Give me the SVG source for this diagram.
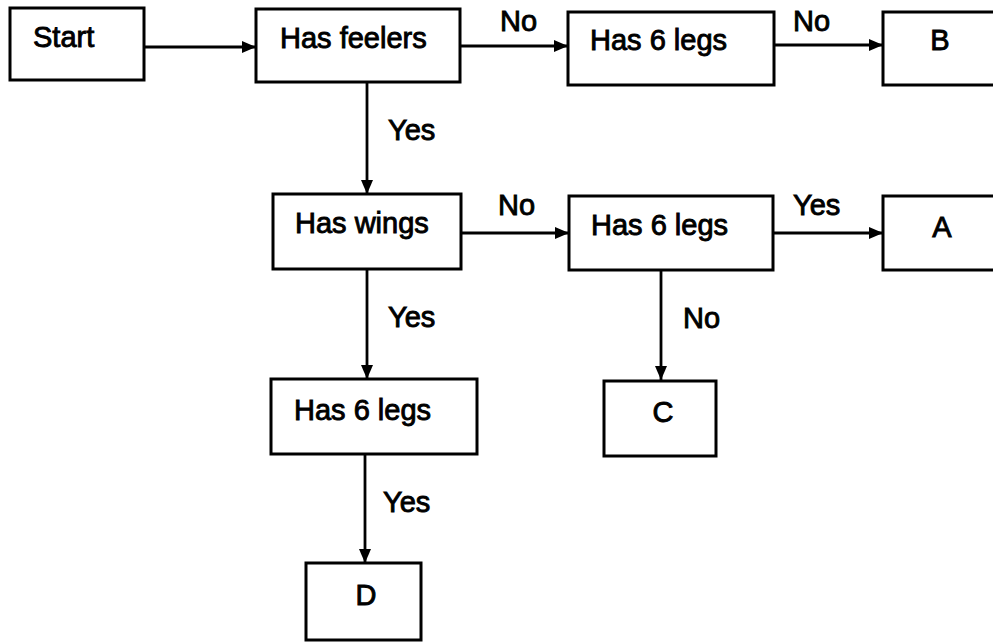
<svg xmlns="http://www.w3.org/2000/svg" width="993" height="642" viewBox="0 0 993 642">
<defs>
<marker id="ah" viewBox="0 0 14 12" refX="14" refY="6" markerWidth="14" markerHeight="12" markerUnits="userSpaceOnUse" orient="auto">
<path d="M0,0 L14,6 L0,12 Z" fill="#000"/>
</marker>
</defs>
<style>
.box{fill:#fff;stroke:#000;stroke-width:3}
.t{font-family:"Liberation Sans",Arial,sans-serif;font-size:29px;fill:#000;stroke:#000;stroke-width:0.9}
.lbl{font-family:"Liberation Sans",Arial,sans-serif;font-size:29px;fill:#000;stroke:#000;stroke-width:0.9}
.c{fill:none;stroke:#000;stroke-width:2.8;marker-end:url(#ah)}
</style>
<rect width="993" height="642" fill="#fff"/>
<g id="connectors">
<line class="c" x1="144" y1="47" x2="256" y2="47"/>
<line class="c" x1="460" y1="46" x2="568" y2="46"/>
<line class="c" x1="774" y1="45" x2="883" y2="45"/>
<line class="c" x1="367" y1="82" x2="367" y2="194"/>
<line class="c" x1="461" y1="233" x2="569" y2="233"/>
<line class="c" x1="773" y1="233" x2="883" y2="233"/>
<line class="c" x1="367" y1="269" x2="367" y2="379"/>
<line class="c" x1="661" y1="270" x2="661" y2="380"/>
<line class="c" x1="365" y1="454" x2="365" y2="563"/>
<text class="lbl" x="500" y="31">No</text>
<text class="lbl" x="793" y="31">No</text>
<text class="lbl" x="388" y="140">Yes</text>
<text class="lbl" x="498" y="215">No</text>
<text class="lbl" x="793" y="215">Yes</text>
<text class="lbl" x="388" y="327">Yes</text>
<text class="lbl" x="683" y="328">No</text>
<text class="lbl" x="383" y="512">Yes</text>
</g>
<g id="start">
<rect class="box" x="10" y="8" width="134" height="72"/>
<text class="t" x="33" y="47">Start</text>
</g>
<g id="has-feelers">
<rect class="box" x="256" y="9" width="204" height="73"/>
<text class="t" x="280" y="48">Has feelers</text>
</g>
<g id="has-6-legs-top">
<rect class="box" x="568" y="12" width="206" height="73"/>
<text class="t" x="590" y="50">Has 6 legs</text>
</g>
<g id="b">
<rect class="box" x="883" y="12" width="120" height="73"/>
<text class="t" x="940" y="50" text-anchor="middle">B</text>
</g>
<g id="has-wings">
<rect class="box" x="273" y="194" width="188" height="75"/>
<text class="t" x="295" y="233">Has wings</text>
</g>
<g id="has-6-legs-mid">
<rect class="box" x="569" y="196" width="204" height="74"/>
<text class="t" x="591" y="235">Has 6 legs</text>
</g>
<g id="a">
<rect class="box" x="883" y="196" width="120" height="74"/>
<text class="t" x="942" y="237" text-anchor="middle">A</text>
</g>
<g id="has-6-legs-low">
<rect class="box" x="271" y="379" width="206" height="75"/>
<text class="t" x="294" y="420">Has 6 legs</text>
</g>
<g id="c">
<rect class="box" x="604" y="381" width="112" height="75"/>
<text class="t" x="663" y="422" text-anchor="middle">C</text>
</g>
<g id="d">
<rect class="box" x="306" y="563" width="115" height="77"/>
<text class="t" x="366" y="605" text-anchor="middle">D</text>
</g>
</svg>
